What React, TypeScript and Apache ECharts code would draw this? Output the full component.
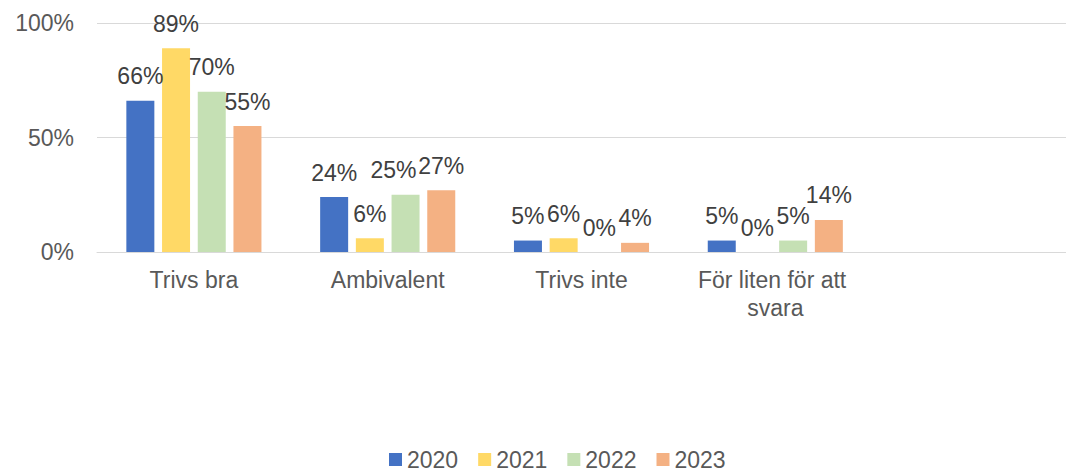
import React, { useEffect, useRef } from "react";
import * as echarts from "echarts";

const categories = ["Trivs bra", "Ambivalent", "Trivs inte", "För liten för att svara", ""];
const years = ["2020", "2021", "2022", "2023"];
const v2020 = [66, 24, 5, 5, null];
const v2021 = [89, 6, 6, 0, null];
const v2022 = [70, 25, 0, 5, null];
const v2023 = [55, 27, 4, 14, null];
const colors = ["#4472C4", "#FFD966", "#C5E0B4", "#F4B183"];
const yTicks = [0, 50, 100];

export default function App() {
  const ref = useRef<HTMLDivElement>(null);
  useEffect(() => {
    if (!ref.current) return;
    const chart = echarts.init(ref.current, null, { renderer: "svg" });
    const font = "Liberation Sans, Arial, sans-serif";
    const all = [v2020, v2021, v2022, v2023];
    chart.setOption({
      animation: false,
      textStyle: { fontFamily: font },
      grid: { left: 97, width: 990, top: 23, bottom: 220 },
      legend: {
        top: 448,
        left: 389,
        padding: 0,
        itemWidth: 13,
        itemHeight: 13,
        itemGap: 20,
        icon: "rect",
        data: years,
        textStyle: { fontSize: 23, color: "#595959", fontFamily: font },
      },
      xAxis: {
        type: "category",
        data: categories,
        axisLine: { lineStyle: { color: "#d9d9d9", width: 1 } },
        axisTick: { show: false },
        axisLabel: {
          fontSize: 23,
          color: "#595959",
          margin: 14,
          width: 180,
          overflow: "break",
          lineHeight: 28,
          interval: 0,
          fontFamily: font,
        },
      },
      yAxis: {
        type: "value",
        min: 0,
        max: 100,
        interval: 50,
        axisLabel: {
          fontSize: 23,
          color: "#595959",
          margin: 23,
          fontFamily: font,
          formatter: (v: number) => (yTicks.includes(v) ? v + "%" : ""),
        },
        splitLine: { lineStyle: { color: "#d9d9d9", width: 1 } },
        axisLine: { show: false },
        axisTick: { show: false },
      },
      series: years.map((y, i) => ({
        name: y,
        type: "bar",
        data: all[i].map((v, j) =>
          i === 2 && j === 1 ? { value: v, label: { offset: [-12, 0] } } : v
        ),
        barWidth: 28,
        barGap: "27.5%",
        itemStyle: { color: colors[i] },
        label: {
          show: true,
          position: "top",
          distance: 13,
          fontSize: 23,
          color: "#404040",
          fontFamily: font,
          formatter: (p: any) => (p.value == null ? "" : p.value + "%"),
        },
      })),
    });
    return () => chart.dispose();
  }, []);
  return (
    <div
      ref={ref}
      style={{ position: "absolute", left: 0, top: 0, width: 1066, height: 472 }}
    />
  );
}
